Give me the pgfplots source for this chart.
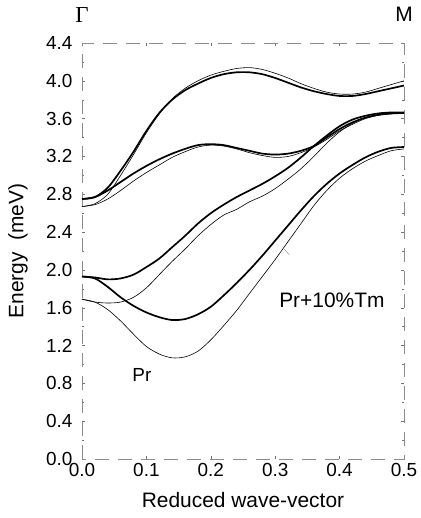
\documentclass[border=0pt]{standalone}
\usepackage{fontspec}
\setmainfont{Liberation Sans}
\newfontfamily\seriffont{Liberation Serif}
\usepackage{pgfplots}
\pgfplotsset{compat=1.18}

% thick = Pr+10%Tm (upper case), thin = Pr (lower case)
\pgfplotstableread{
x     Gk    Gt    Ek     Et    Ak     At     Bk    Bt
0.00  2.75  2.67  2.75   2.67  1.93   1.69   1.93  1.69
0.02  2.77  2.70  2.77   2.69  1.92   1.66   1.91  1.66
0.04  2.87  2.80  2.84   2.75  1.90   1.65   1.82  1.58
0.06  3.05  3.00  2.93   2.84  1.91   1.66   1.71  1.46
0.08  3.25  3.22  3.02   2.94  1.95   1.71   1.62  1.32
0.10  3.47  3.45  3.10   3.03  2.03   1.81   1.55  1.19
0.12  3.66  3.65  3.17   3.11  2.12   1.95   1.50  1.11
0.14  3.80  3.81  3.23   3.19  2.24   2.09   1.47  1.07
0.16  3.90  3.92  3.28   3.25  2.36   2.22   1.48  1.08
0.18  3.97  4.00  3.32   3.30  2.49   2.36   1.53  1.14
0.20  4.03  4.06  3.33   3.32  2.60   2.48   1.61  1.26
0.22  4.07  4.10  3.32   3.31  2.69   2.58   1.73  1.41
0.24  4.09  4.13  3.29   3.28  2.77   2.64   1.86  1.57
0.26  4.09  4.14  3.26   3.24  2.84   2.72   2.00  1.75
0.28  4.07  4.12  3.23   3.21  2.91   2.78   2.15  1.93
0.30  4.03  4.08  3.22   3.19  2.99   2.86   2.31  2.11
0.32  3.98  4.03  3.23   3.20  3.08   2.96   2.47  2.30
0.34  3.93  3.97  3.26   3.24  3.19   3.07   2.63  2.49
0.36  3.89  3.92  3.31   3.30  3.31   3.20   2.78  2.68
0.38  3.86  3.88  3.40   3.38  3.42   3.34   2.91  2.84
0.40  3.84  3.86  3.49   3.47  3.52   3.46   3.02  2.97
0.42  3.84  3.86  3.56   3.54  3.59   3.55   3.11  3.07
0.44  3.86  3.88  3.61   3.60  3.63   3.61   3.19  3.15
0.46  3.89  3.92  3.64   3.635 3.655  3.64   3.25  3.21
0.48  3.92  3.96  3.655  3.65  3.665  3.655  3.29  3.26
0.50  3.95  4.00  3.66   3.66  3.665  3.66   3.30  3.28
}\bands

\begin{document}
\begin{tikzpicture}[font=\fontsize{19}{22}\selectfont]
\begin{axis}[
  scale only axis, width=322bp, height=416bp,
  xmin=0, xmax=0.5, ymin=0, ymax=4.4,
  xtick={0,0.1,0.2,0.3,0.4,0.5},
  ytick={0,0.4,0.8,1.2,1.6,2.0,2.4,2.8,3.2,3.6,4.0,4.4},
  minor y tick num=1,
  tick align=inside, major tick length=3bp, minor tick length=2bp,
  tick style={black!55, line width=0.4pt},
  axis line style={black!45, line width=0.5pt, dash pattern=on 14bp off 9bp},
  /pgf/number format/assume math mode=true,
  xticklabel style={/pgf/number format/.cd, fixed, zerofill, precision=1, /tikz/.cd, yshift=-1bp},
  yticklabel style={/pgf/number format/.cd, fixed, zerofill, precision=1, /tikz/.cd, xshift=-6bp},
  xlabel={Reduced wave-vector}, ylabel={Energy~~(meV)},
  every axis x label/.style={at={(axis description cs:0.5,0)}, anchor=center, yshift=-41bp, font=\fontsize{21}{24}\selectfont},
  every axis y label/.style={at={(axis description cs:0,0.5)}, anchor=center, rotate=90, yshift=64bp, font=\fontsize{21}{24}\selectfont},
  clip=false,
  every axis plot/.append style={black, smooth, tension=0.5, no marks},
]
\addplot[line width=1.7bp] table[x=x, y=Gk] {\bands};
\addplot[line width=0.6bp] table[x=x, y=Gt] {\bands};
\addplot[line width=1.7bp] table[x=x, y=Ek] {\bands};
\addplot[line width=0.6bp] table[x=x, y=Et] {\bands};
\addplot[line width=1.7bp] table[x=x, y=Ak] {\bands};
\addplot[line width=0.6bp] table[x=x, y=At] {\bands};
\addplot[line width=1.7bp] table[x=x, y=Bk] {\bands};
\addplot[line width=0.6bp] table[x=x, y=Bt] {\bands};

\draw[black!50, line width=0.4bp] (axis cs:0.314,2.22) -- (axis cs:0.322,2.16);
\node[font=\fontsize{21}{24}\selectfont] at (axis cs:0.388,1.68) {Pr+10\%Tm};
\node at (axis cs:0.093,0.89) {Pr};
\node at (axis cs:0.0,4.70) {\seriffont\fontsize{23}{26}\selectfont Γ};
\node[font=\fontsize{21}{24}\selectfont] at (axis cs:0.5,4.70) {M};
% page extent of the reference
\path (rel axis cs:0,0) ++(-82bp,-59bp);
\path (rel axis cs:1,1) ++(14bp,43bp);
\end{axis}
\end{tikzpicture}
\end{document}
